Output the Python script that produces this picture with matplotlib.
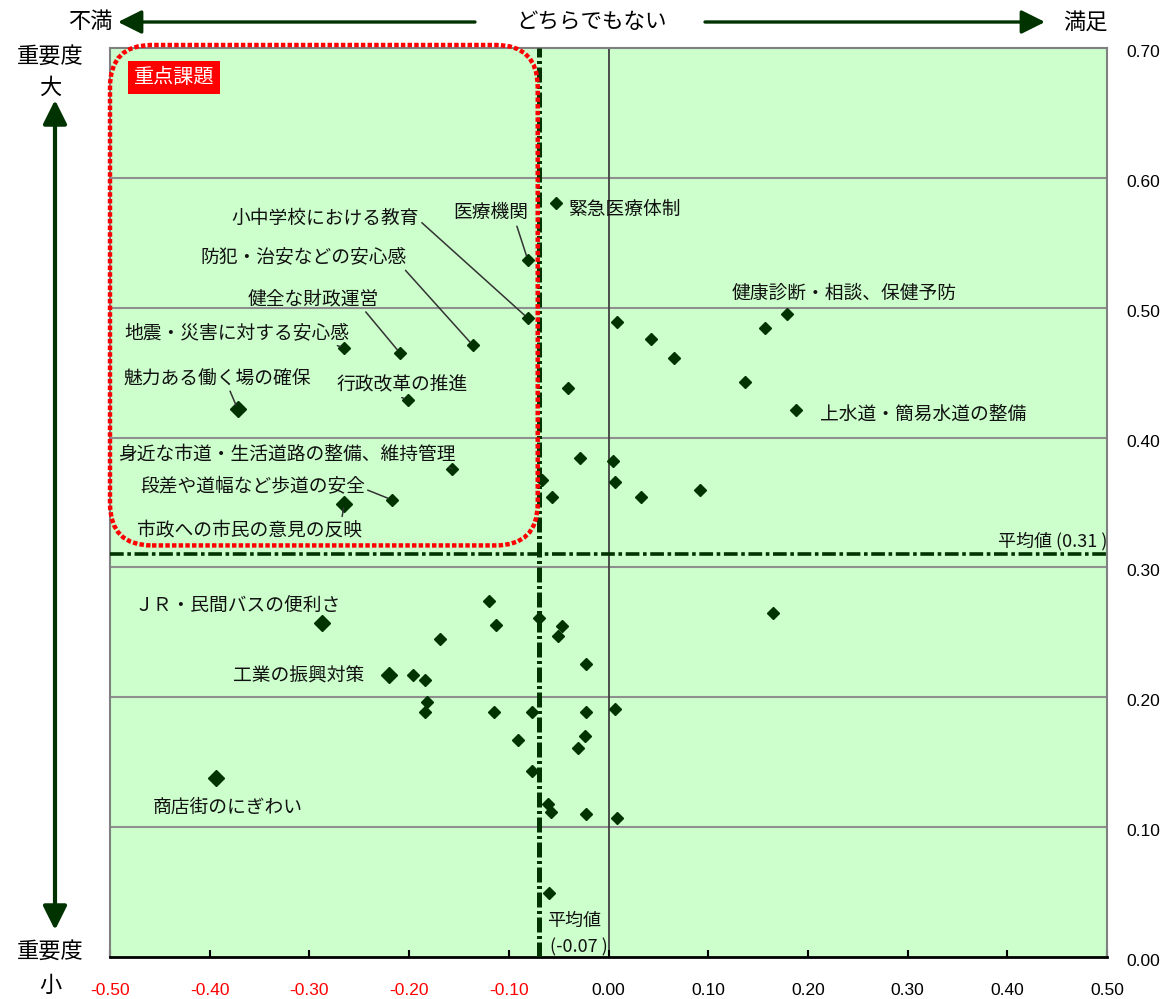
import matplotlib
matplotlib.use("Agg")
import matplotlib.pyplot as plt
from matplotlib.patches import FancyBboxPatch, FancyArrowPatch
from matplotlib.transforms import IdentityTransform, ScaledTranslation

plt.rcParams['font.family'] = ['Noto Sans CJK JP', 'DejaVu Sans']

# ---- data: satisfaction (x) / importance (y) per item ----
item_names = [
    '医療機関', '小中学校における教育', '防犯・治安などの安心感', '健全な財政運営',
    '地震・災害に対する安心感', '魅力ある働く場の確保', '行政改革の推進',
    '身近な市道・生活道路の整備、維持管理', '段差や道幅など歩道の安全',
    '市政への市民の意見の反映', '緊急医療体制', '健康診断・相談、保健予防',
    '上水道・簡易水道の整備', 'ＪＲ・民間バスの便利さ', '工業の振興対策', '商店街のにぎわい',
] + [''] * 38

satisfaction = [
    -0.081, -0.081, -0.136, -0.209, -0.265, -0.372, -0.201, -0.157, -0.217, -0.265,
    -0.053, 0.179, 0.188, -0.287, -0.220, -0.394,
    0.009, 0.043, 0.066, 0.157, 0.137, -0.041, -0.029, 0.005, 0.007, 0.033, 0.092,
    -0.067, -0.057,
    0.165, -0.120, -0.113, -0.070, -0.047, -0.051, -0.169, -0.023, -0.196, -0.184,
    -0.182, -0.184, -0.115, -0.077, -0.023, 0.007, -0.091, -0.024, -0.031, -0.077,
    -0.061, -0.058, -0.023, 0.009, -0.060,
]

importance = [
    0.537, 0.492, 0.471, 0.465, 0.469, 0.422, 0.429, 0.376, 0.352, 0.349,
    0.581, 0.495, 0.421, 0.257, 0.217, 0.138,
    0.489, 0.476, 0.461, 0.484, 0.443, 0.438, 0.384, 0.382, 0.366, 0.354, 0.360,
    0.367, 0.354,
    0.265, 0.274, 0.256, 0.261, 0.255, 0.247, 0.245, 0.226, 0.217, 0.213,
    0.196, 0.189, 0.189, 0.189, 0.189, 0.191, 0.167, 0.170, 0.161, 0.143,
    0.118, 0.112, 0.110, 0.107, 0.049,
]

highlighted = ['魅力ある働く場の確保', '市政への市民の意見の反映',
               'ＪＲ・民間バスの便利さ', '工業の振興対策', '商店街のにぎわい']

mean_satisfaction = -0.07
mean_importance = 0.31

x_ticks = [-0.5, -0.4, -0.3, -0.2, -0.1, 0.0, 0.1, 0.2, 0.3, 0.4, 0.5]
x_tick_labels = ['-0.50', '-0.40', '-0.30', '-0.20', '-0.10', '0.00',
                 '0.10', '0.20', '0.30', '0.40', '0.50']
y_ticks = [0.0, 0.1, 0.2, 0.3, 0.4, 0.5, 0.6, 0.7]
y_tick_labels = ['0.00', '0.10', '0.20', '0.30', '0.40', '0.50', '0.60', '0.70']

# label placement: (text x, text y, alignment, leader start on text box)
label_layout = {
    '医療機関': (-0.080, 0.573, 'right', (0.83, 0.0)),
    '小中学校における教育': (-0.190, 0.569, 'right', (1.0, 0.4)),
    '防犯・治安などの安心感': (-0.202, 0.539, 'right', (0.98, 0.0)),
    '健全な財政運営': (-0.230, 0.507, 'right', (0.88, 0.0)),
    '地震・災害に対する安心感': (-0.260, 0.481, 'right', (0.91, 0.0)),
    '魅力ある働く場の確保': (-0.298, 0.446, 'right', (0.56, 0.0)),
    '行政改革の推進': (-0.273, 0.441, 'left', (0.44, 0.0)),
    '身近な市道・生活道路の整備、維持管理': (-0.492, 0.387, 'left', (0.92, 0.2)),
    '段差や道幅など歩道の安全': (-0.470, 0.362, 'left', (1.0, 0.4)),
    '市政への市民の意見の反映': (-0.473, 0.329, 'left', (0.91, 1.0)),
    '緊急医療体制': (-0.041, 0.576, 'left', None),
    '健康診断・相談、保健予防': (0.123, 0.511, 'left', None),
    '上水道・簡易水道の整備': (0.212, 0.418, 'left', None),
    'ＪＲ・民間バスの便利さ': (-0.475, 0.270, 'left', None),
    '工業の振興対策': (-0.377, 0.216, 'left', None),
    '商店街のにぎわい': (-0.457, 0.115, 'left', None),
}

DARK = '#003300'
W, H = 1164, 999

fig = plt.figure(figsize=(W / 100, H / 100), dpi=100)
ax = fig.add_axes([110 / W, 1 - 957 / H, 997 / W, 909 / H])
ax.set_xlim(-0.5, 0.5)
ax.set_ylim(0.0, 0.7)
ax.set_facecolor('#CCFFCC')

# grid and zero line
for yv in y_ticks[1:-1]:
    ax.axhline(yv, color='#8f8f8f', lw=1.5, zorder=1)
ax.axvline(0.0, color='#404040', lw=1.3, zorder=1)

# points
for name, xv, yv in zip(item_names, satisfaction, importance):
    ms = 8.2 if name in highlighted else 6.3
    ax.plot(xv, yv, marker='D', ms=ms, color=DARK, mec=DARK, ls='none', zorder=3)

# item labels with leaders
for name, xv, yv in zip(item_names, satisfaction, importance):
    if not name:
        continue
    tx, ty, ha, rel = label_layout[name]
    if rel is None:
        ax.text(tx, ty, name, ha=ha, va='center', fontsize=13.5, color='#111111', zorder=7)
    else:
        ax.annotate(name, xy=(xv, yv), xytext=(tx, ty), ha=ha, va='center',
                    fontsize=13.5, color='#111111', zorder=7,
                    arrowprops=dict(arrowstyle='-', color='#333333', lw=1.1,
                                    relpos=rel, shrinkA=0, shrinkB=3))

# mean lines
ax.axvline(mean_satisfaction, color=DARK, lw=3.6, ls=(0, (3, 0.7, 0.6, 0.7)),
           zorder=5, dash_capstyle='butt')
ax.axhline(mean_importance, color=DARK, lw=2.6, ls=(0, (3.8, 1, 1, 1)),
           zorder=5, dash_capstyle='butt', clip_on=False)

ax.text(0.5, mean_importance + 0.0105, f'平均値 ({mean_importance:.2f} )', ha='right',
        va='center', fontsize=13, color='#111111', zorder=7)
ax.text(mean_satisfaction + 0.008, 0.0277, '平均値', ha='left', va='center',
        fontsize=13, color='#111111', zorder=7)
ax.text(mean_satisfaction + 0.011, 0.0077, f'({mean_satisfaction:.2f} )', ha='left',
        va='center', fontsize=13, color='#111111', zorder=7)

# spines
for side in ('left', 'top', 'right'):
    ax.spines[side].set_color('#808080')
    ax.spines[side].set_linewidth(1.5)
ax.spines['bottom'].set_color('black')
ax.spines['bottom'].set_linewidth(2)

# ticks
ax.set_xticks(x_ticks)
ax.set_xticklabels(x_tick_labels, fontfamily='Liberation Sans', fontsize=12.5)
for lbl, val in zip(ax.get_xticklabels(), x_ticks):
    lbl.set_color('#FF0000' if val < 0 else 'black')
ax.tick_params(axis='x', direction='in', length=5, width=1.5, pad=19, top=False)
ax.yaxis.tick_right()
ax.set_yticks(y_ticks)
ax.set_yticklabels(y_tick_labels, fontfamily='Liberation Sans', fontsize=12.5)
ax.tick_params(axis='y', length=0, pad=14)
shift_down = ScaledTranslation(0, -3 / 100, fig.dpi_scale_trans)
for lbl in ax.get_yticklabels():
    lbl.set_transform(lbl.get_transform() + shift_down)

# priority region: rounded dotted frame over the upper-left quadrant
x0 = ax.transData.transform((-0.5, 0))[0] + 0
x1 = ax.transData.transform((mean_satisfaction, 0))[0] - 1
y_top = ax.transData.transform((0, 0.7))[1] + 3
y_bot = ax.transData.transform((0, mean_importance))[1] + 9
frame = FancyBboxPatch((x0, y_bot), x1 - x0, y_top - y_bot,
                       boxstyle='round,pad=0,rounding_size=42',
                       transform=IdentityTransform(), fill=False,
                       edgecolor='#FF0000', lw=3.2, ls=(0, (1, 0.5)), zorder=6)
fig.add_artist(frame)

ax.text(-0.436, 0.6776, '重点課題', ha='center', va='center', fontsize=14.5,
        color='white', zorder=8,
        bbox=dict(boxstyle='square,pad=0.3', facecolor='#FF0000', edgecolor='none'))

# direction arrows and captions
yt = 1 - 22 / H
fig.text(90 / W, yt, '不満', ha='center', va='center', fontsize=16)
fig.text(592 / W, yt, 'どちらでもない', ha='center', va='center', fontsize=15.5)
fig.text(1085 / W, yt, '満足', ha='center', va='center', fontsize=16)
for start, end in (((475 / W, yt), (118 / W, yt)), ((705 / W, yt), (1045 / W, yt))):
    fig.add_artist(FancyArrowPatch(start, end, transform=fig.transFigure,
                                   arrowstyle='-|>,head_length=0.9,head_width=0.45',
                                   mutation_scale=16, color=DARK, lw=2.4,
                                   shrinkA=0, shrinkB=0))

xl = 55 / W
fig.add_artist(FancyArrowPatch((xl, 1 - 100 / H), (xl, 1 - 930 / H),
                               transform=fig.transFigure,
                               arrowstyle='<|-|>,head_length=0.9,head_width=0.45',
                               mutation_scale=16, color=DARK, lw=3.0,
                               shrinkA=0, shrinkB=0))
fig.text(50 / W, 1 - 56 / H, '重要度', ha='center', va='center', fontsize=16)
fig.text(50 / W, 1 - 87 / H, '大', ha='center', va='center', fontsize=16)
fig.text(50 / W, 1 - 951 / H, '重要度', ha='center', va='center', fontsize=16)
fig.text(50 / W, 1 - 985 / H, '小', ha='center', va='center', fontsize=16)

fig.savefig('out.png', dpi=100)
